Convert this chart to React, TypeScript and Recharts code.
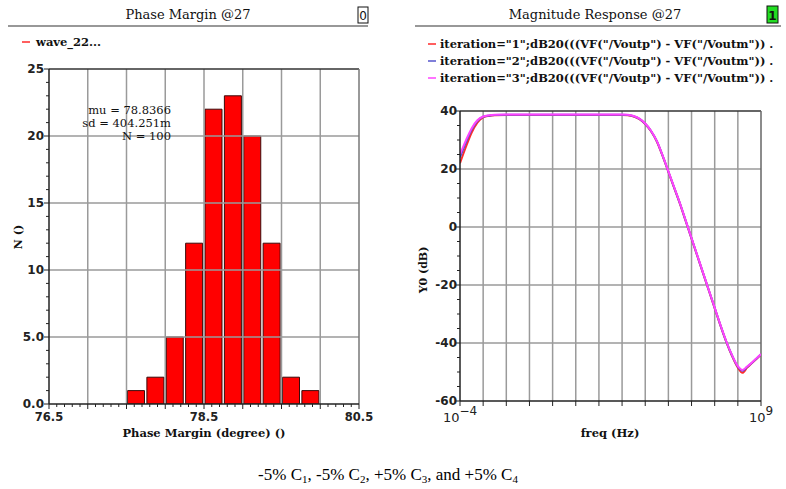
import React from 'react';
import { ComposedChart, Bar, XAxis, YAxis, ReferenceLine, LineChart, Line } from 'recharts';

// ---------- Left: Phase Margin histogram ----------
const binCenters = [77.625, 77.875, 78.125, 78.375, 78.625, 78.875, 79.125, 79.375, 79.625, 79.875];
const binCounts = [1, 2, 5, 12, 22, 23, 20, 12, 2, 1];
const pmGridValues = [77, 77.5, 78, 78.5, 79, 79.5, 80];
const pmLabelTicks = [76.5, 78.5, 80.5];
const countGridValues = [5, 10, 15, 20];
const countLabelTicks = [0, 5, 10, 15, 20, 25];
const countLabels = ['0.0', '5.0', '10', '15', '20', '25'];
const statsLines = ['mu = 78.8366', 'sd = 404.251m', 'N = 100'];

// ---------- Right: Magnitude response ----------
const freqExp = [-4, -3.75, -3.5, -3.25, -3, -2.75, -2.5, -2, -1, 0, 1, 2, 3, 3.25, 3.5, 3.75, 4, 4.25, 4.5, 4.75, 5, 5.25, 5.5, 5.75, 6, 6.25, 6.5, 6.75, 7, 7.25, 7.5, 7.75, 8, 8.2, 8.4, 8.6, 8.8, 9];
const iter1 = [22, 27.5, 32.5, 36, 37.8, 38.3, 38.5, 38.6, 38.6, 38.6, 38.6, 38.6, 38.6, 38.5, 38.1, 37.2, 35.5, 33, 29.5, 24.5, 19, 13.5, 8, 2, -4, -10, -16, -22, -28, -34, -39.6, -44.5, -48.5, -50.3, -48.5, -47, -45.5, -44];
const iter2 = [24, 29, 33.5, 36.5, 38, 38.4, 38.6, 38.7, 38.7, 38.7, 38.7, 38.7, 38.7, 38.6, 38.2, 37.3, 35.6, 33.1, 29.6, 24.6, 19.1, 13.6, 8.1, 2.1, -3.9, -9.9, -15.9, -21.9, -27.9, -33.9, -39.5, -44.3, -48.2, -49.6, -48.3, -46.9, -45.4, -43.9];
const iter3 = [25, 29.8, 34, 36.8, 38.1, 38.5, 38.7, 38.8, 38.8, 38.8, 38.8, 38.8, 38.8, 38.7, 38.3, 37.4, 35.7, 33.2, 29.7, 24.7, 19.2, 13.7, 8.2, 2.2, -3.8, -9.8, -15.8, -21.8, -27.8, -33.8, -39.4, -44.2, -48, -49.3, -48.1, -46.8, -45.3, -43.8];
const decadeTicks = [-4, -3, -2, -1, 0, 1, 2, 3, 4, 5, 6, 7, 8, 9];
const decadeLabelTicks = [-4, 9];
const dbGridValues = [20, 0, -20, -40];
const dbLabelTicks = [-60, -40, -20, 0, 20, 40];
const seriesNames = [
  'iteration="1";dB20(((VF("/Voutp") - VF("/Voutm")) .',
  'iteration="2";dB20(((VF("/Voutp") - VF("/Voutm")) .',
  'iteration="3";dB20(((VF("/Voutp") - VF("/Voutm")) .',
];
const seriesColors = ['#ff2a2a', '#5555cc', '#ff44ff'];
const seriesKeys = ['it1', 'it2', 'it3'];

const histData = binCenters.map((c, i) => ({ pm: c, count: binCounts[i] }));
const magData = freqExp.map((f, i) => ({ f, it1: iter1[i], it2: iter2[i], it3: iter3[i] }));

const step = (a: number, b: number, s: number) => {
  const out: number[] = [];
  const n = Math.round((b - a) / s);
  for (let i = 0; i <= n; i++) out.push(Math.round((a + i * s) * 1000) / 1000);
  return out;
};
const pmMinorTicks = step(76.5, 80.5, 0.1);
const countMinorTicks = step(0, 25, 1);
const dbMinorTicks = step(-60, 40, 5);

const near = (a: number, b: number) => Math.abs(a - b) < 1e-6;
const TICK_FONT = '"DejaVu Sans", Verdana, sans-serif';
const SERIF = '"DejaVu Serif", "Liberation Serif", serif';
const TIMES = '"Liberation Serif", "Times New Roman", serif';
const AXIS = '#222';
const GRID = '#9a9a9a';

const PmXTick = (props: any) => {
  const { x, y, payload } = props;
  const v = payload.value;
  const major = near(v * 2, Math.round(v * 2));
  const isLabel = pmLabelTicks.some((t) => near(t, v));
  return (
    <g>
      <line x1={x} x2={x} y1={y} y2={y + (major ? 5 : 3)} stroke={AXIS} strokeWidth={1} />
      {isLabel && (
        <text x={x} y={y + 17} textAnchor="middle" fontFamily={TICK_FONT} fontWeight="bold" fontSize={11.5} fill="#222">
          {v.toFixed(1)}
        </text>
      )}
    </g>
  );
};

const CountYTick = (props: any) => {
  const { x, y, payload } = props;
  const v = payload.value;
  const idx = countLabelTicks.findIndex((t) => near(t, v));
  const major = idx >= 0;
  return (
    <g>
      <line x1={x} x2={x - (major ? 5 : 3)} y1={y} y2={y} stroke={AXIS} strokeWidth={1} />
      {major && (
        <text x={x - 5} y={y + 4} textAnchor="end" fontFamily={TICK_FONT} fontWeight="bold" fontSize={12} fill="#222">
          {countLabels[idx]}
        </text>
      )}
    </g>
  );
};

const FreqXTick = (props: any) => {
  const { x, y, payload } = props;
  const v = payload.value;
  const isLabel = decadeLabelTicks.some((t) => near(t, v));
  return (
    <g>
      <line x1={x} x2={x} y1={y} y2={y + 5} stroke={AXIS} strokeWidth={1} />
      {isLabel && (
        <text x={x} y={y + 21} textAnchor="middle" fontFamily={TICK_FONT} fontSize={13} fill="#222">
          <tspan>10</tspan>
          <tspan dy={-7} fontSize={12}>{v < 0 ? '\u2212' + Math.abs(v) : String(v)}</tspan>
        </text>
      )}
    </g>
  );
};

const DbYTick = (props: any) => {
  const { x, y, payload } = props;
  const v = payload.value;
  const major = dbLabelTicks.some((t) => near(t, v));
  return (
    <g>
      <line x1={x} x2={x - (major ? 5 : 3)} y1={y} y2={y} stroke={AXIS} strokeWidth={1} />
      {major && (
        <text x={x - 3} y={y + 4} textAnchor="end" fontFamily={TICK_FONT} fontWeight="bold" fontSize={12} fill="#222">
          {v}
        </text>
      )}
    </g>
  );
};

export default function App() {
  return (
    <div style={{ position: 'absolute', left: 0, top: 0, width: 786, height: 489, background: '#fff', overflow: 'hidden' }}>
      <div style={{ position: 'absolute', left: 0, top: 0 }}>
        <ComposedChart width={390} height={450} data={histData} margin={{ top: 69, right: 31, bottom: 16, left: 9 }}>
          <XAxis
            dataKey="pm"
            type="number"
            domain={[76.5, 80.5]}
            ticks={pmMinorTicks}
            interval={0}
            height={30}
            tickSize={0}
            tickMargin={0}
            tickLine={false}
            axisLine={{ stroke: AXIS, strokeWidth: 1.5 }}
            tick={(p: any) => <PmXTick {...p} />}
            allowDataOverflow
          />
          <YAxis
            type="number"
            domain={[0, 25]}
            ticks={countMinorTicks}
            interval={0}
            width={40}
            tickSize={0}
            tickMargin={0}
            tickLine={false}
            axisLine={{ stroke: AXIS, strokeWidth: 1.5 }}
            tick={(p: any) => <CountYTick {...p} />}
            allowDataOverflow
          />
          {pmGridValues.map((v) => (
            <ReferenceLine key={'vx' + v} x={v} stroke={GRID} strokeWidth={1.5} />
          ))}
          {countGridValues.map((v) => (
            <ReferenceLine key={'hy' + v} y={v} stroke={GRID} strokeWidth={1.5} />
          ))}
          <ReferenceLine y={25} stroke="#333" strokeWidth={1.5} />
          <ReferenceLine x={80.5} stroke="#777" strokeWidth={1.5} />
          <Bar dataKey="count" fill="#ff0000" stroke="#3a0a0a" strokeWidth={1} barSize={17} isAnimationActive={false} />
        </ComposedChart>
      </div>

      <div style={{ position: 'absolute', left: 390, top: 0 }}>
        <LineChart width={396} height={450} data={magData} margin={{ top: 111, right: 25, bottom: 19, left: 30 }}>
          <XAxis
            dataKey="f"
            type="number"
            domain={[-4, 9]}
            ticks={decadeTicks}
            interval={0}
            height={30}
            tickSize={0}
            tickMargin={0}
            tickLine={false}
            axisLine={{ stroke: AXIS, strokeWidth: 1.5 }}
            tick={(p: any) => <FreqXTick {...p} />}
            allowDataOverflow
          />
          <YAxis
            type="number"
            domain={[-60, 40]}
            ticks={dbMinorTicks}
            interval={0}
            width={40}
            tickSize={0}
            tickMargin={0}
            tickLine={false}
            axisLine={{ stroke: AXIS, strokeWidth: 1.5 }}
            tick={(p: any) => <DbYTick {...p} />}
            allowDataOverflow
          />
          {decadeTicks.slice(1, -1).map((v) => (
            <ReferenceLine key={'dx' + v} x={v} stroke={GRID} strokeWidth={1.5} />
          ))}
          {dbGridValues.map((v) => (
            <ReferenceLine key={'dy' + v} y={v} stroke={GRID} strokeWidth={1.5} />
          ))}
          <ReferenceLine y={40} stroke="#333" strokeWidth={1.5} />
          <ReferenceLine x={9} stroke="#666" strokeWidth={1.5} />
          {seriesKeys.map((k, i) => (
            <Line key={k} dataKey={k} type="monotone" stroke={seriesColors[i]} strokeWidth={2} dot={false} isAnimationActive={false} />
          ))}
        </LineChart>
      </div>

      <svg width={786} height={489} style={{ position: 'absolute', left: 0, top: 0, pointerEvents: 'none' }}>
        <defs>
          <clipPath id="legclip">
            <rect x={0} y={0} width={783} height={489} />
          </clipPath>
        </defs>
        {/* left header */}
        <text x={188} y={19} textAnchor="middle" fontFamily={SERIF} fontSize={13} fill="#111">Phase Margin @27</text>
        <line x1={8} x2={368} y1={26} y2={26} stroke="#333" strokeWidth={1.2} />
        <rect x={358} y={7} width={10} height={16} fill="#fff" stroke="#111" strokeWidth={1} />
        <text x={363} y={20} textAnchor="middle" fontFamily={TICK_FONT} fontSize={12} fill="#111">0</text>
        <line x1={22} x2={30} y1={42} y2={42} stroke="#ff2a2a" strokeWidth={1.5} />
        <text x={36} y={46} fontFamily={SERIF} fontWeight="bold" fontSize={11.5} fill="#111">wave_22...</text>
        {statsLines.map((s, i) => (
          <text key={s} x={171} y={114 + i * 13} textAnchor="end" fontFamily={SERIF} fontSize={11.5} fill="#111">{s}</text>
        ))}
        <text transform="translate(22,237) rotate(-90)" textAnchor="middle" fontFamily={SERIF} fontWeight="bold" fontSize={11} fill="#111">N ()</text>
        <text x={204} y={437} textAnchor="middle" fontFamily={SERIF} fontWeight="bold" fontSize={11.5} fill="#111">Phase Margin (degree) ()</text>

        {/* right header */}
        <text x={595} y={19} textAnchor="middle" fontFamily={SERIF} fontSize={13} fill="#111">Magnitude Response @27</text>
        <line x1={415} x2={781} y1={26} y2={26} stroke="#333" strokeWidth={1.2} />
        <rect x={767} y={6} width={11} height={17} fill="#22dd22" stroke="#111" strokeWidth={1} />
        <text x={772.5} y={20} textAnchor="middle" fontFamily={TICK_FONT} fontWeight="bold" fontSize={12} fill="#111">1</text>
        <g clipPath="url(#legclip)">
          {seriesNames.map((s, i) => (
            <g key={s}>
              <line x1={428} x2={436} y1={44 + i * 17} y2={44 + i * 17} stroke={seriesColors[i]} strokeWidth={1.5} />
              <text x={440} y={48 + i * 17} fontFamily={SERIF} fontWeight="bold" fontSize={11.5} fill="#111">{s}</text>
            </g>
          ))}
        </g>
        <text transform="translate(427,270) rotate(-90)" textAnchor="middle" fontFamily={SERIF} fontWeight="bold" fontSize={11} fill="#111">Y0 (dB)</text>
        <text x={610} y={437} textAnchor="middle" fontFamily={SERIF} fontWeight="bold" fontSize={11.5} fill="#111">freq (Hz)</text>

        {/* caption */}
        <text x={388} y={480} textAnchor="middle" fontFamily={TIMES} fontSize={17} fill="#000">
          <tspan>-5% C</tspan><tspan fontSize={11} dy={3}>1</tspan>
          <tspan dy={-3}>, -5% C</tspan><tspan fontSize={11} dy={3}>2</tspan>
          <tspan dy={-3}>, +5% C</tspan><tspan fontSize={11} dy={3}>3</tspan>
          <tspan dy={-3}>, and +5% C</tspan><tspan fontSize={11} dy={3}>4</tspan>
        </text>
      </svg>
    </div>
  );
}
